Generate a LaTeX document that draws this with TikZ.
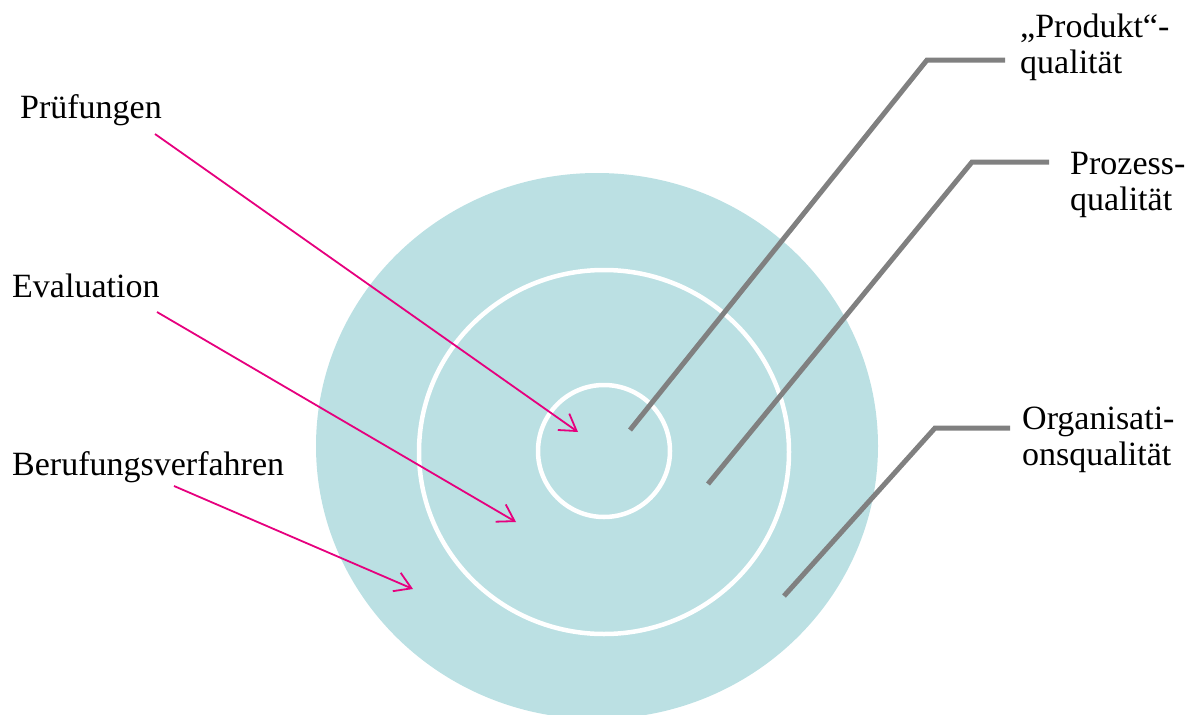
\documentclass[tikz,border=0pt]{standalone}
\usepackage{fontspec}
\setmainfont{Liberation Serif}
\usetikzlibrary{arrows.meta,positioning}
\definecolor{ringteal}{RGB}{187,224,227}
\definecolor{arrowpink}{RGB}{230,0,126}
\definecolor{leadgray}{RGB}{128,128,128}

\begin{document}
\begin{tikzpicture}[x=1pt, y=-1pt,
    lbl/.style={anchor=base west, inner sep=0pt, align=left, font=\fontsize{34}{36}\selectfont},
    ptr/.style={arrowpink, line width=1.8pt, -{Straight Barb[length=16pt,width=20pt]}},
    lead/.style={leadgray, line width=5pt},
    ring/.style={draw=white, line width=4.5pt}
]
    \useasboundingbox (0,0) rectangle (1192,715);
    \clip (0,0) rectangle (1192,715);

    % circles
    \fill[ringteal] (597,446) ellipse [x radius=281, y radius=273];
    \draw[ring] (604,452) ellipse [x radius=185, y radius=182];
    \draw[ring] (604,451) circle (66);

    % left labels
    \node[lbl] (pruef) at (20,118) {Prüfungen};
    \node[lbl] (eval) at (12,297) {Evaluation};
    \node[lbl] (beruf) at (12,475) {Berufungsverfahren};

    \coordinate (pruefS) at (155,134);
    \coordinate (evalS) at (157,312);
    \coordinate (berufS) at (174,486);
    \coordinate (core) at (578,432);
    \coordinate (mid) at (516,522);
    \coordinate (outer) at (413,589);

    \draw[ptr] (pruefS) -- (core);
    \draw[ptr] (evalS) -- (mid);
    \draw[ptr] (berufS) -- (outer);

    % right labels (base = last line)
    \node[lbl] (prod) at (1020,73) {„Produkt“-\\qualität};
    \node[lbl] (proz) at (1070,210) {Prozess-\\qualität};
    \node[lbl] (orga) at (1022,465) {Organisati-\\onsqualität};

    \coordinate (prodA) at (630,430);
    \coordinate (prodK) at (927,60);
    \coordinate (prodE) at (1005,60);
    \coordinate (prozA) at (708,484);
    \coordinate (prozK) at (972,162);
    \coordinate (prozE) at (1049,162);
    \coordinate (orgaA) at (784,596);
    \coordinate (orgaK) at (935,428);
    \coordinate (orgaE) at (1010,428);

    \draw[lead] (prodA) -- (prodK) -- (prodE);
    \draw[lead] (prozA) -- (prozK) -- (prozE);
    \draw[lead] (orgaA) -- (orgaK) -- (orgaE);
\end{tikzpicture}
\end{document}
